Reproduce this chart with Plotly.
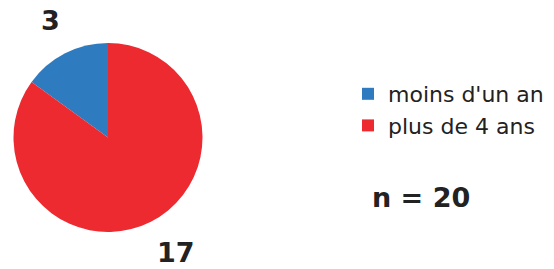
import math
import plotly.graph_objects as go

categories = ["moins d'un an", "plus de 4 ans"]
values = [3, 17]
colors = ["#2f7bbf", "#ec2a30"]
n_total = 20

W, H = 554, 269
cx, cy, R = 108, 137.5, 94.5

total = sum(values)
first_deg = 360.0 * values[0] / total

fig = go.Figure()
fig.add_trace(go.Pie(
    labels=categories,
    values=values,
    marker=dict(colors=colors, line=dict(width=0)),
    sort=False,
    direction="clockwise",
    rotation=-first_deg,
    textinfo="none",
    hoverinfo="label+value",
    domain=dict(x=[(cx - R) / W, (cx + R) / W], y=[1 - (cy + R) / H, 1 - (cy - R) / H]),
))

# value labels placed outside each slice, anchored at the slice's mid angle
start = -first_deg
label_r = 1.25 * R
for v in values:
    sweep = 360.0 * v / total
    mid = math.radians(start + sweep / 2)  # clockwise from 12 o'clock
    start += sweep
    dx = label_r * math.sin(mid)
    dy = -label_r * math.cos(mid)  # screen y grows downward
    px, py = cx + dx, cy + dy
    lower = dy > 0
    right = dx > 0
    fig.add_annotation(
        x=px / W, y=1 - py / H, xref="paper", yref="paper",
        text=f"<b>{v}</b>", showarrow=False,
        font=dict(family="DejaVu Sans", size=27, color="#222222"),
        xanchor="left" if right else "right",
        yanchor="top" if lower else "bottom",
        xshift=-7 if right else 8,
        yshift=8 if lower else -6,
    )

fig.add_annotation(
    x=370 / W, y=1 - 197 / H, xref="paper", yref="paper",
    text=f"<b>n = {n_total}</b>", showarrow=False,
    font=dict(family="DejaVu Sans", size=27, color="#222222"),
    xanchor="left", yanchor="middle",
)

fig.update_layout(
    width=W, height=H,
    margin=dict(l=0, r=0, t=0, b=0),
    paper_bgcolor="white",
    plot_bgcolor="white",
    showlegend=True,
    legend=dict(
        x=348 / W, y=1 - 73 / H, xanchor="left", yanchor="top",
        font=dict(family="DejaVu Sans", size=22, color="#222222"),
        bgcolor="rgba(0,0,0,0)",
        tracegroupgap=0,
    ),
)

fig.write_html(
    "out.html",
    config={"displayModeBar": False},
    post_script="document.body.style.margin='0';",
)
